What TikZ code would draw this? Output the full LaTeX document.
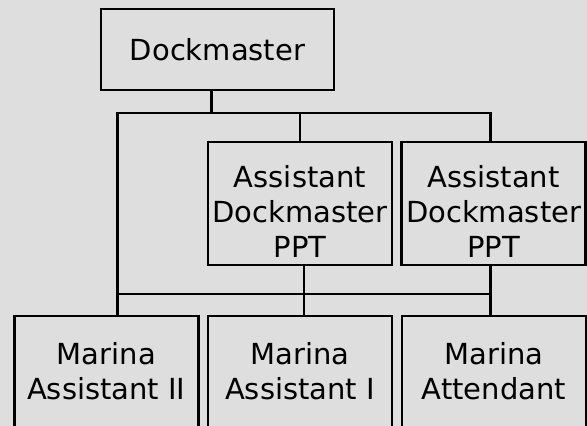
\documentclass[tikz,border=0pt]{standalone}
\usepackage{fontspec}
\setmainfont{DejaVu Sans}
\usepackage{tikz}
\usetikzlibrary{positioning,calc}

\definecolor{photogray}{RGB}{222,222,222}

\begin{document}
\begin{tikzpicture}[
  x=1pt, y=-1pt,
  font=\fontsize{29}{35}\selectfont,
  role/.style={draw, line width=2.5pt, minimum width=184pt, align=center, inner sep=0pt},
  link/.style={line width=2.5pt}
]
\useasboundingbox (0,0) rectangle (587,426);
\fill[photogray] (0,0) rectangle (587,426);
\clip (0,0) rectangle (587,426);

\node[role, minimum width=233pt, minimum height=81pt] (dock) at (217.5, 49.7) {Dockmaster};
\node[role, minimum height=123pt] (adpa) at (300, 203.3) {\rule{0pt}{38pt}Assistant\\Dockmaster\\PPT};
\node[role, minimum height=123pt] (adpb) at (493.6, 203.3) {\rule{0pt}{38pt}Assistant\\Dockmaster\\PPT};
\node[role, minimum height=140pt] (mass2) at (106.3, 386) {\rule{0pt}{38pt}Marina\\Assistant II\\\strut};
\node[role, minimum height=140pt] (mass1) at (300, 386) {\rule{0pt}{38pt}Marina\\Assistant I\\\strut};
\node[role, minimum height=140pt] (matt) at (494, 386) {\rule{0pt}{38pt}Marina\\Attendant\\\strut};

\coordinate (stem) at (211.5, 113);
\coordinate (busl) at (117.5, 113);
\coordinate (busr) at (490.5, 113);
\coordinate (lowl) at (117.5, 294);
\coordinate (lowr) at (490.5, 294);
\coordinate (mid)  at (304, 294);

\draw[link] (dock.south -| stem) -- (stem);
\draw[link] (mass2.north -| busl) -- (busl) -- (busr) -- (adpb.north -| busr);
\draw[link] (adpa.north) -- (adpa.north |- busl);
\draw[link] (lowl) -- (lowr);
\draw[link] (adpa.south -| mid) -- (mass1.north -| mid);
\draw[link] (adpb.south -| busr) -- (matt.north -| busr);
\end{tikzpicture}
\end{document}
